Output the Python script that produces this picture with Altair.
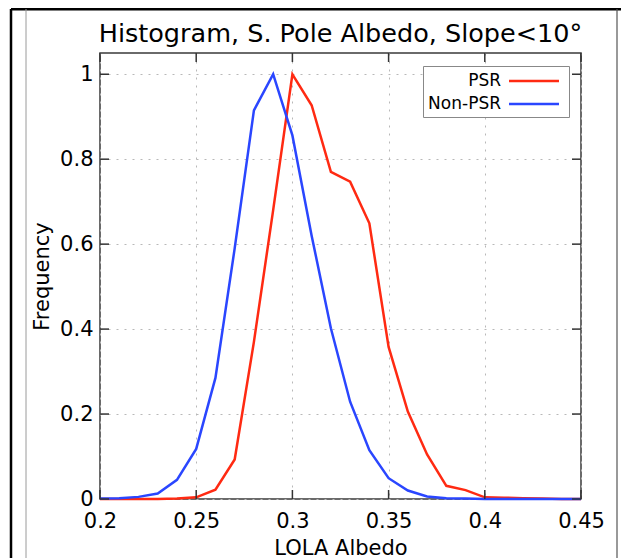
import altair as alt
import pandas as pd

# ---------------- data ----------------
albedo = [0.20, 0.21, 0.22, 0.23, 0.24, 0.25, 0.26, 0.27, 0.28, 0.29, 0.30, 0.31, 0.32,
          0.33, 0.34, 0.35, 0.36, 0.37, 0.38, 0.39, 0.40, 0.41, 0.42, 0.43, 0.44, 0.45]
psr = [0.0, 0.0, 0.0, 0.0, 0.001, 0.004, 0.022, 0.093, 0.37, 0.68, 1.0, 0.927, 0.77,
       0.747, 0.649, 0.358, 0.206, 0.105, 0.031, 0.021, 0.004, 0.003, 0.002, 0.001, 0.0, 0.0]
non_psr = [0.001, 0.002, 0.005, 0.013, 0.045, 0.118, 0.285, 0.59, 0.915, 1.0, 0.856, 0.62, 0.402,
           0.229, 0.115, 0.049, 0.02, 0.006, 0.002, 0.001, 0.0, 0.0, 0.0, 0.0, 0.0, 0.0]
series_names = ["PSR", "Non-PSR"]
series_colors = ["#ff2a12", "#2a46ff"]
x_ticks = [0.2, 0.25, 0.3, 0.35, 0.4, 0.45]
y_ticks = [0, 0.2, 0.4, 0.6, 0.8, 1.0]
chart_title = "Histogram, S. Pole Albedo, Slope<10°"
x_title = "LOLA Albedo"
y_title = "Frequency"

# ---------------- layout ----------------
W, H = 481, 446
FONT = "DejaVu Sans"
TICK = 9

df = pd.DataFrame({
    "albedo": albedo + albedo,
    "freq": psr + non_psr,
    "series": [series_names[0]] * len(albedo) + [series_names[1]] * len(albedo),
})
xt = pd.DataFrame({"albedo": x_ticks})
yt = pd.DataFrame({"freq": y_ticks})
one = pd.DataFrame({"label": [chart_title]})

xscale = alt.Scale(domain=[0.2, 0.45], nice=False, zero=False)
yscale = alt.Scale(domain=[0, 1.05], nice=False, zero=False)

x_axis = alt.Axis(values=x_ticks, format="~g", title=x_title, labelPadding=11,
                  titlePadding=6, labelFlush=False)
y_axis = alt.Axis(values=y_ticks, format="~g", title=y_title, labelPadding=7,
                  titlePadding=7, labelFlush=False)

lines = alt.Chart(df).mark_line(strokeWidth=2.5).encode(
    x=alt.X("albedo:Q", scale=xscale, axis=x_axis),
    y=alt.Y("freq:Q", scale=yscale, axis=y_axis),
    color=alt.Color("series:N",
                    scale=alt.Scale(domain=series_names, range=series_colors),
                    sort=series_names,
                    legend=alt.Legend(title=None, orient="none", legendX=323, legendY=13,
                                      direction="vertical",
                                      symbolType="M-2.94,0L2.94,0",
                                      symbolSize=289, symbolStrokeWidth=2.5,
                                      labelFontSize=17, labelFont=FONT, labelColor="black",
                                      labelAlign="right", labelOffset={"expr": "-43"},
                                      symbolOffset=96, rowPadding=5, padding=5,
                                      strokeColor="#888888", fillColor="white")),
)

tick_kw = dict(color="#333333", strokeWidth=1.5)
bottom_ticks = alt.Chart(xt).mark_rule(**tick_kw).encode(
    x=alt.X("albedo:Q", scale=xscale, axis=x_axis), y=alt.value(H), y2=alt.value(H - TICK))
top_ticks = alt.Chart(xt).mark_rule(**tick_kw).encode(
    x=alt.X("albedo:Q", scale=xscale, axis=x_axis), y=alt.value(0), y2=alt.value(TICK))
left_ticks = alt.Chart(yt).mark_rule(**tick_kw).encode(
    y=alt.Y("freq:Q", scale=yscale, axis=y_axis), x=alt.value(0), x2=alt.value(TICK))
right_ticks = alt.Chart(yt).mark_rule(**tick_kw).encode(
    y=alt.Y("freq:Q", scale=yscale, axis=y_axis), x=alt.value(W), x2=alt.value(W - TICK))

# chart title as a text mark, centred over the plot
title_text = alt.Chart(one).mark_text(
    font=FONT, fontSize=25.5, color="black", align="center", baseline="alphabetic"
).encode(x=alt.value(W / 2), y=alt.value(-11), text="label:N")

# decorative page frame around the figure
frame_top = alt.Chart(one).mark_rule(color="black", strokeWidth=3).encode(
    x=alt.value(-89), x2=alt.value(540), y=alt.value(-44))
frame_left = alt.Chart(one).mark_rule(color="black", strokeWidth=2.5).encode(
    x=alt.value(-89), y=alt.value(-44), y2=alt.value(520))
frame_inner = alt.Chart(one).mark_rule(color="#9a9a9a", strokeWidth=1).encode(
    x=alt.value(-74), y=alt.value(-44), y2=alt.value(520))
frame_right = alt.Chart(one).mark_rule(color="#555555", strokeWidth=1.2).encode(
    x=alt.value(517), y=alt.value(-44), y2=alt.value(520))

chart = alt.layer(
    lines,
    bottom_ticks, top_ticks, left_ticks, right_ticks,
    title_text,
    frame_top, frame_left, frame_inner, frame_right,
).properties(
    width=W, height=H,
    autosize=alt.AutoSizeParams(type="none"),
    padding={"left": 92, "top": 45, "right": 40, "bottom": 59},
    background="white",
).configure_view(
    stroke="#3a3a3a", strokeWidth=1.5
).configure_axis(
    labelFont=FONT, labelFontSize=21, labelColor="black",
    titleFont=FONT, titleFontSize=21, titleFontWeight="normal", titleColor="black",
    domain=False, ticks=False, tickSize=0,
    grid=True, gridDash=[2, 6], gridColor="#b8b8b8", gridWidth=1,
)

chart.save("out.html", embed_options={"renderer": "svg", "actions": False})
